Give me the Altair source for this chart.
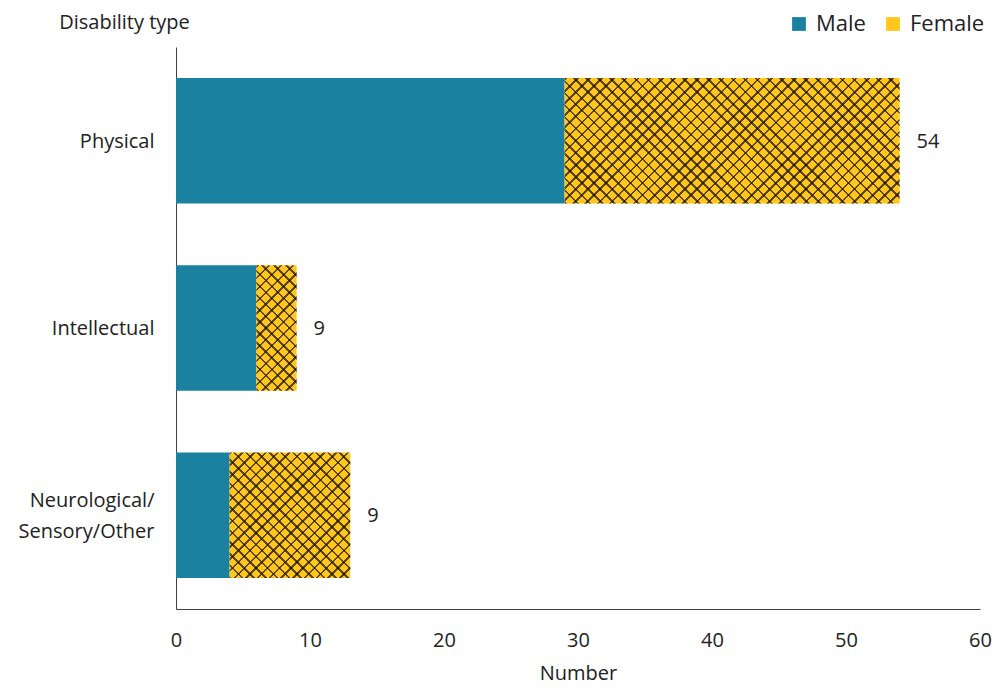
import altair as alt
import pandas as pd

categories = ["Physical", "Intellectual", "Neurological/Sensory/Other"]
male = [29, 6, 4]
female = [25, 3, 9]
total_labels = ["54", "9", "9"]
sexes = ["Male", "Female"]
colors = ["#1B81A0", "#FFC61E"]

# layout constants (style only)
W, H = 804, 562
XMAX = 60
PAD_INNER = 0.33
PX = W / XMAX
STEP = H / 3
BAR_H = STEP * (1 - PAD_INNER)
PERIOD = 12.0
FONT = "Open Sans"
FS = 20
TXT = "#222222"

rows = []
for c, m, f in zip(categories, male, female):
    rows.append({"cat": c, "sex": "Male", "start": 0, "end": m})
    rows.append({"cat": c, "sex": "Female", "start": m, "end": m + f})
long_df = pd.DataFrame(rows)

wide_df = pd.DataFrame({
    "cat": categories,
    "male": male,
    "total": [m + f for m, f in zip(male, female)],
    "label": total_labels,
})

multi = "datum.value == 'Neurological/Sensory/Other'"
y_enc = alt.Y("cat:N", sort=categories,
              scale=alt.Scale(domain=categories, paddingInner=PAD_INNER, paddingOuter=PAD_INNER / 2),
              axis=alt.Axis(title="Disability type", titleAngle=0, titleAlign="center",
                            titleBaseline="middle", titleX=-52, titleY=-25,
                            titleFontSize=FS, titleFontWeight="normal", titleColor=TXT,
                            labelFontSize=FS, labelColor=TXT, labelPadding=22, ticks=False,
                            labelLineHeight=31,
                            labelOffset={"condition": {"test": multi, "value": -14}, "value": 1},
                            labelExpr=multi + " ? ['Neurological/', 'Sensory/Other'] : datum.value",
                            domainColor="#404040"))
x_scale = alt.Scale(domain=[0, XMAX], nice=False)
x_axis = alt.Axis(values=[0, 10, 20, 30, 40, 50, 60], grid=False, ticks=False,
                  labelFlush=False,
                  labelFontSize=FS, labelColor=TXT, labelPadding=21,
                  title="Number", titleFontSize=FS, titleFontWeight="normal", titleColor=TXT,
                  titlePadding=13, domainColor="#404040")

base = alt.Chart(long_df).mark_bar().encode(
    y=y_enc,
    x=alt.X("start:Q", scale=x_scale, axis=x_axis),
    x2="end:Q",
    color=alt.Color("sex:N", scale=alt.Scale(domain=sexes, range=colors),
                    legend=alt.Legend(title=None, orient="none", direction="horizontal",
                                      legendX=612, legendY=-34, symbolType="square",
                                      symbolSize=190, labelFontSize=22, labelColor=TXT,
                                      labelFont=FONT, columnPadding=16, labelOffset=6,
                                      symbolStrokeWidth=0)),
)


def stripe_gradient(w, h, direction):
    r = h / w
    k = (1 + r) / (1 + r * r)
    n = max(1, round((w + h) / PERIOD))
    d = 0.21 / n
    dark = "rgba(30,20,0,0.72)"
    clear = "rgba(0,0,0,0)"
    stops = []
    for i in range(n):
        a = i / n
        stops += [alt.GradientStop(color=clear, offset=a),
                  alt.GradientStop(color=dark, offset=a),
                  alt.GradientStop(color=dark, offset=min(1, a + d)),
                  alt.GradientStop(color=clear, offset=min(1, a + d))]
    if direction == 1:
        return alt.LinearGradient(gradient="linear", stops=stops, x1=0, y1=0, x2=k, y2=k * r)
    return alt.LinearGradient(gradient="linear", stops=stops, x1=0, y1=1, x2=k, y2=1 - k * r)


layers = [base]
for c, f in zip(categories, female):
    w = f * PX
    for direction in (1, -1):
        layers.append(
            alt.Chart(wide_df).transform_filter(alt.datum.cat == c).mark_bar(
                fill=stripe_gradient(w, BAR_H, direction)
            ).encode(y=y_enc, x=alt.X("male:Q", scale=x_scale, axis=x_axis), x2="total:Q")
        )

text = alt.Chart(wide_df).mark_text(align="left", dx=17, dy=1, fontSize=FS, color=TXT, font=FONT).encode(
    y=y_enc, x=alt.X("total:Q", scale=x_scale, axis=x_axis), text="label:N"
)
layers.append(text)

chart = alt.layer(*layers).properties(
    width=W, height=H,
    autosize=alt.AutoSizeParams(type="none"),
    padding={"left": 168, "top": 39, "right": 14, "bottom": 76},
).configure(font=FONT, background="white").configure_view(stroke=None)

chart.save("out.html", embed_options={"renderer": "svg", "actions": False})
